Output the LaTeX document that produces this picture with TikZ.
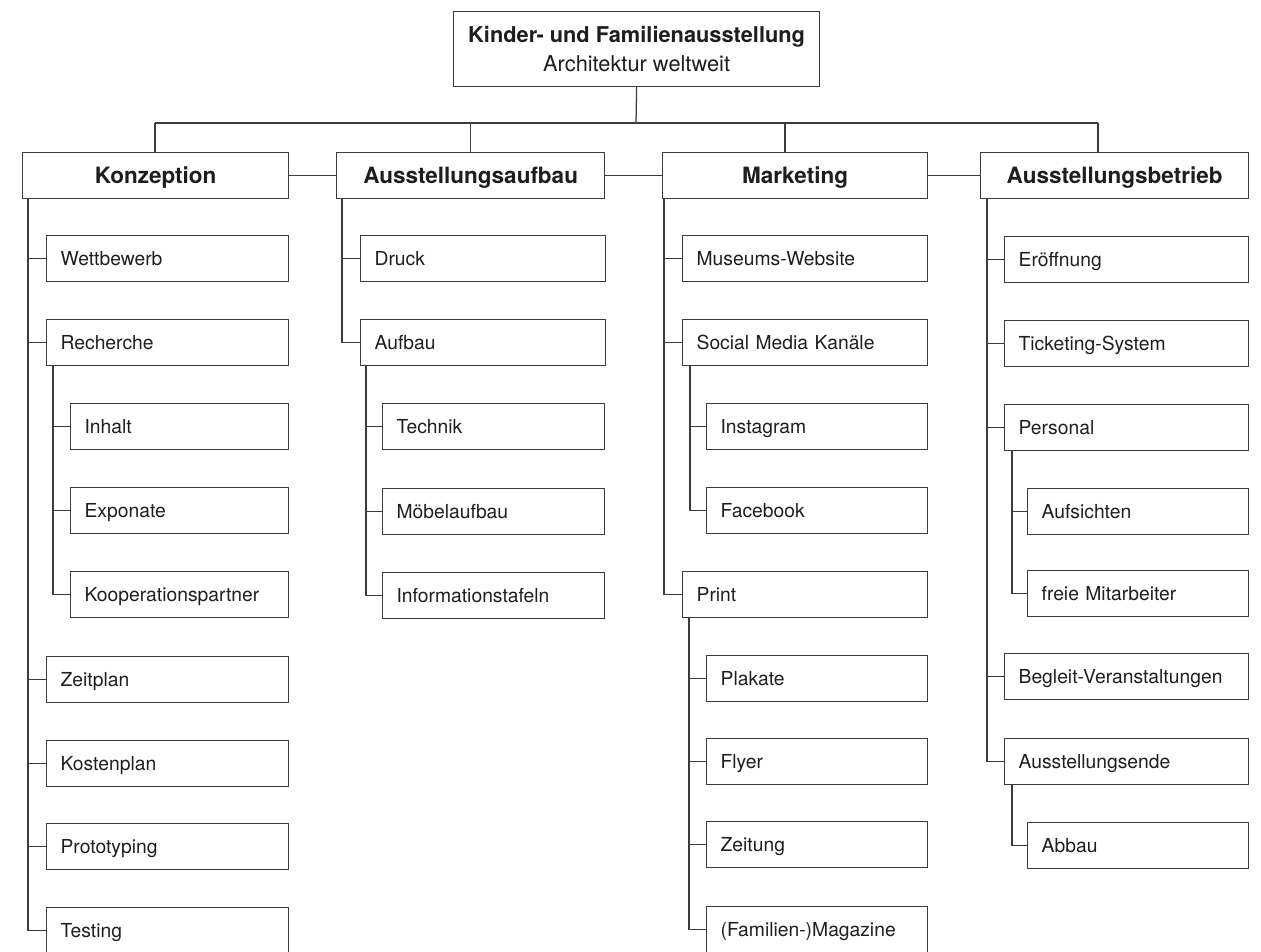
\documentclass[tikz,border=0pt]{standalone}
\usepackage{fontspec}
\setmainfont{TeX Gyre Heros}
\definecolor{lc}{HTML}{3C3C3C}
\definecolor{tc}{HTML}{1E1E1E}
\begin{document}
\begin{tikzpicture}[x=1pt,y=-1pt,
  ln/.style={draw=lc, line width=1.25pt},
  basebox/.style={draw=lc, line width=1.25pt, anchor=north west, text=tc, inner ysep=0pt},
  hbox/.style={basebox, minimum height=46pt, inner xsep=0pt, align=center,
    font=\fontsize{22.5}{26}\selectfont\bfseries, text height=16pt, text depth=0pt},
  cbox/.style={basebox, minimum height=46pt, inner xsep=14pt, align=left,
    font=\fontsize{19.3}{22}\selectfont, text height=13.9pt, text depth=0pt, text width=#1},
  cbox/.default=214pt
]
\useasboundingbox (0,0) rectangle (1261,952);

% root
\node[basebox, minimum width=366pt, minimum height=75pt, align=center,
  font=\fontsize{21.8}{29}\selectfont] (root) at (453,11)
  {{\bfseries Kinder- und Familienausstellung}\\Architektur weltweit};

% headers
\node[hbox, minimum width=266pt] (kon) at (22,152) {Konzeption};
\node[hbox, minimum width=268pt] (aus) at (336,152) {Ausstellungsaufbau};
\node[hbox, minimum width=265pt] (mar) at (662,152) {Marketing};
\node[hbox, minimum width=268pt] (bet) at (980,152) {Ausstellungsbetrieb};

% column 1
\node[cbox=214pt] (wett) at (46,235) {Wettbewerb};
\node[cbox=214pt] (rech) at (46,319) {Recherche};
\node[cbox=190pt] (inh) at (70,403) {Inhalt};
\node[cbox=190pt] (expo) at (70,487) {Exponate};
\node[cbox=190pt] (koop) at (70,571) {Kooperationspartner};
\node[cbox=214pt] (zeit) at (46,656) {Zeitplan};
\node[cbox=214pt] (kost) at (46,740) {Kostenplan};
\node[cbox=214pt] (proto) at (46,823) {Prototyping};
\node[cbox=214pt] (test) at (46,907) {Testing};

% column 2
\node[cbox=217pt] (druck) at (360,235) {Druck};
\node[cbox=217pt] (aufb) at (360,319) {Aufbau};
\node[cbox=194pt] (tech) at (382,403) {Technik};
\node[cbox=194pt] (moeb) at (382,488) {Möbelaufbau};
\node[cbox=194pt] (info) at (382,572) {Informationstafeln};

% column 3
\node[cbox=217pt] (web) at (682,235) {Museums-Website};
\node[cbox=217pt] (soc) at (682,319) {Social Media Kanäle};
\node[cbox=193pt] (insta) at (706,403) {Instagram};
\node[cbox=193pt] (fb) at (706,487) {Facebook};
\node[cbox=217pt] (print) at (682,571) {Print};
\node[cbox=193pt] (plak) at (706,655) {Plakate};
\node[cbox=193pt] (fly) at (706,738) {Flyer};
\node[cbox=193pt] (ztg) at (706,821) {Zeitung};
\node[cbox=193pt] (mag) at (706,906) {(Familien-)Magazine};

% column 4
\node[cbox=216pt] (eroe) at (1004,236) {Eröffnung};
\node[cbox=216pt] (tick) at (1004,320) {Ticketing-System};
\node[cbox=216pt] (pers) at (1004,404) {Personal};
\node[cbox=193pt] (aufs) at (1027,488) {Aufsichten};
\node[cbox=193pt] (frei) at (1027,570) {freie Mitarbeiter};
\node[cbox=216pt] (begl) at (1004,653) {Begleit-Veranstaltungen};
\node[cbox=216pt] (ende) at (1004,738) {Ausstellungsende};
\node[cbox=193pt] (abb) at (1027,822) {Abbau};

% top connectors
\coordinate (bus) at (636,123);
\coordinate (busL) at (155,123);
\coordinate (busR) at (1098,123);
\coordinate (dm) at (785,123);
\draw[ln] (root.south) -- (bus);
\draw[ln] (busL) -- (busR);
\draw[ln] (busL) -- (busL |- kon.north);
\draw[ln] (aus.north |- bus) -- (aus.north);
\draw[ln] (dm) -- (dm |- mar.north);
\draw[ln] (busR) -- (busR |- bet.north);

% header links
\draw[ln] (kon.east) -- (aus.west);
\draw[ln] (aus.east) -- (mar.west);
\draw[ln] (mar.east) -- (bet.west);

% column 1 links
\foreach \c in {wett,rech,zeit,kost,proto,test}
  \draw[ln] ([xshift=6pt]kon.south west) |- (\c.west);
\foreach \c in {inh,expo,koop}
  \draw[ln] ([xshift=7pt]rech.south west) |- (\c.west);

% column 2 links
\foreach \c in {druck,aufb}
  \draw[ln] ([xshift=6pt]aus.south west) |- (\c.west);
\foreach \c in {tech,moeb,info}
  \draw[ln] ([xshift=6pt]aufb.south west) |- (\c.west);

% column 3 links
\foreach \c in {web,soc,print}
  \draw[ln] ([xshift=2pt]mar.south west) |- (\c.west);
\foreach \c in {insta,fb}
  \draw[ln] ([xshift=8pt]soc.south west) |- (\c.west);
\foreach \c in {plak,fly,ztg,mag}
  \draw[ln] ([xshift=7pt]print.south west) |- (\c.west);

% column 4 links
\foreach \c in {eroe,tick,pers,begl,ende}
  \draw[ln] ([xshift=7pt]bet.south west) |- (\c.west);
\foreach \c in {aufs,frei}
  \draw[ln] ([xshift=8pt]pers.south west) |- (\c.west);
\foreach \c in {abb}
  \draw[ln] ([xshift=8pt]ende.south west) |- (\c.west);
\end{tikzpicture}
\end{document}
